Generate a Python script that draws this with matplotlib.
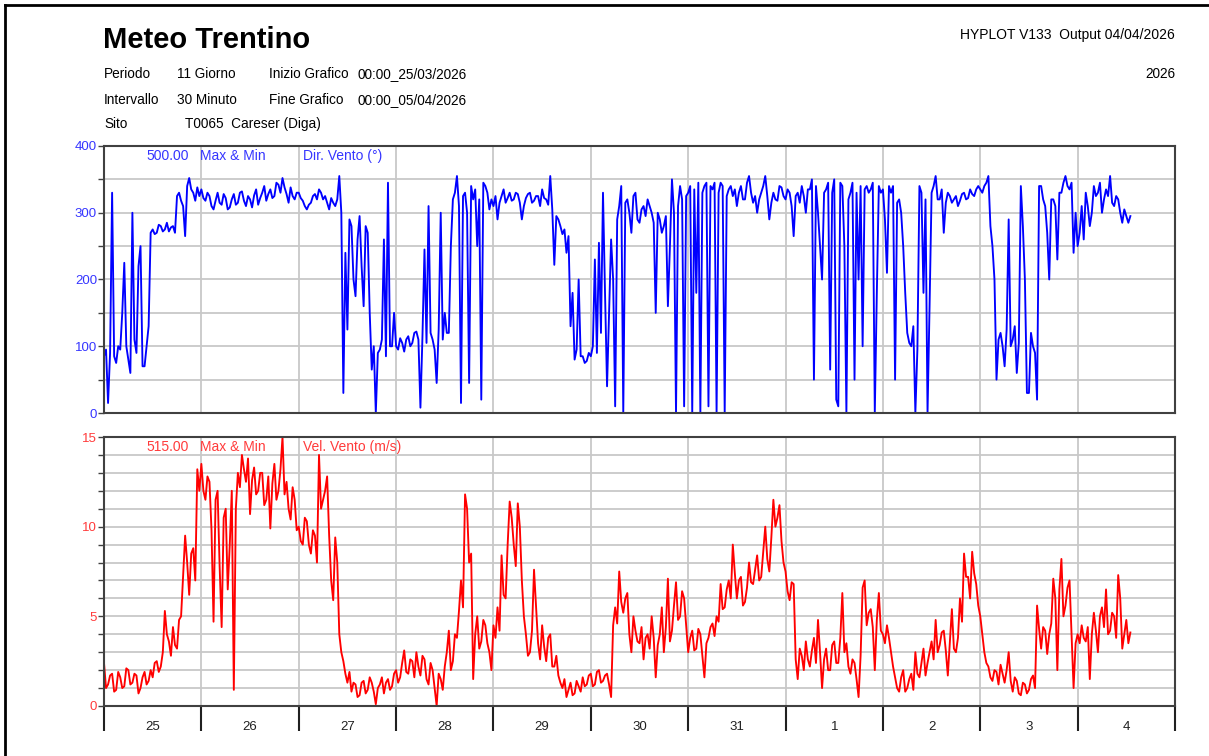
import numpy as np
import matplotlib.pyplot as plt
from matplotlib.lines import Line2D

plt.rcParams['font.family'] = ['Liberation Sans', 'DejaVu Sans']

# etichette dei giorni (dal 25/03 al 04/04)
giorni = ['25', '26', '27', '28', '29', '30', '31', '1', '2', '3', '4']

# direzione vento (gradi), un valore ogni 30 minuti dalle 00:00 del 25/03
dir_vento = [
    85, 95, 15, 90, 330, 85, 75, 100, 95, 150, 225, 100, 80, 60, 300, 110, 90, 220, 250, 70, 70, 100, 130, 270,
    275, 268, 270, 282, 280, 272, 275, 285, 272, 278, 280, 270, 325, 330, 318, 310, 265, 340, 352, 335, 330, 318, 338, 325,  # 25
    335, 322, 318, 330, 325, 310, 305, 318, 330, 315, 312, 328, 322, 305, 308, 320, 328, 312, 315, 330, 332, 318, 310, 325,
    320, 308, 326, 335, 312, 322, 330, 340, 318, 328, 335, 322, 325, 345, 342, 330, 352, 338, 328, 315, 338, 325, 320, 330,  # 26
    330, 322, 318, 310, 305, 312, 315, 325, 328, 320, 335, 330, 320, 325, 315, 305, 322, 315, 310, 320, 355, 300, 30, 240,
    125, 290, 280, 200, 175, 260, 295, 220, 160, 280, 270, 150, 65, 100, 0, 90, 95, 110, 260, 85, 345, 100, 100, 150,  # 27
    100, 95, 112, 105, 92, 110, 115, 100, 105, 120, 122, 110, 8, 115, 245, 105, 310, 120, 110, 95, 45, 125, 300, 110,
    150, 120, 120, 250, 320, 330, 355, 310, 15, 325, 330, 300, 45, 340, 320, 335, 250, 320, 20, 345, 340, 330, 305, 320,  # 28
    310, 325, 290, 315, 325, 335, 315, 322, 330, 318, 320, 330, 328, 315, 290, 310, 322, 328, 330, 315, 318, 325, 325, 310,
    335, 322, 320, 312, 355, 305, 222, 295, 290, 280, 268, 275, 240, 265, 130, 180, 80, 95, 200, 85, 85, 75, 78, 90,  # 29
    85, 100, 230, 90, 255, 120, 330, 180, 40, 150, 260, 200, 10, 290, 310, 340, 0, 315, 320, 300, 270, 325, 330, 290,
    285, 305, 310, 295, 320, 310, 300, 285, 150, 300, 290, 270, 280, 295, 160, 250, 350, 300, 0, 310, 340, 320, 10, 325,  # 30
    330, 340, 0, 335, 180, 345, 0, 330, 340, 345, 10, 340, 335, 345, 0, 330, 345, 340, 0, 325, 335, 340, 325, 335,
    310, 330, 340, 320, 320, 345, 355, 330, 315, 325, 300, 320, 330, 340, 355, 325, 290, 315, 330, 320, 318, 340, 338, 325,  # 31
    320, 335, 330, 310, 265, 325, 330, 315, 340, 325, 300, 335, 335, 350, 50, 340, 300, 250, 200, 330, 335, 345, 65, 330,
    350, 20, 10, 345, 340, 250, 0, 320, 330, 345, 50, 330, 200, 340, 100, 335, 340, 330, 335, 345, 0, 180, 340, 330,  # 1
    335, 290, 210, 340, 330, 340, 50, 315, 320, 300, 250, 180, 120, 105, 100, 130, 0, 95, 340, 330, 180, 320, 0, 160,
    330, 340, 355, 320, 320, 335, 270, 315, 330, 325, 315, 320, 325, 310, 318, 328, 330, 320, 322, 335, 328, 325, 335, 340,  # 2
    335, 330, 340, 345, 355, 280, 250, 200, 50, 110, 120, 100, 70, 125, 290, 100, 110, 130, 60, 105, 340, 280, 200, 30,
    30, 120, 100, 90, 20, 340, 340, 320, 310, 270, 200, 320, 320, 310, 230, 330, 330, 345, 355, 340, 335, 345, 240, 300,  # 3
    250, 270, 310, 260, 330, 310, 280, 300, 340, 325, 330, 345, 300, 320, 335, 325, 355, 315, 310, 325, 320, 300, 285, 305,
    295, 285, 295,  # 4
]

# velocita vento (m/s), stessi istanti
vel_vento = [
    2.4, 1.0, 1.2, 1.7, 1.8, 0.8, 0.9, 1.9, 1.6, 1.0, 1.1, 2.1, 2.0, 1.2, 1.3, 1.8, 1.7, 0.7, 1.0, 1.6, 1.9, 1.2, 1.4, 2.0,
    1.6, 2.4, 2.5, 1.9, 2.2, 3.0, 5.3, 4.0, 3.6, 2.8, 4.4, 3.4, 3.2, 4.8, 5.0, 7.2, 9.5, 8.0, 6.2, 8.5, 8.8, 7.0, 13.2, 12.0,  # 25
    13.5, 12.0, 11.5, 12.8, 12.5, 9.8, 4.7, 11.5, 12.0, 7.8, 4.4, 10.5, 11.0, 6.5, 9.0, 12.0, 0.9, 11.0, 13.0, 12.2, 14.0, 13.2, 12.5, 13.8,
    10.7, 12.6, 13.3, 11.8, 12.0, 13.0, 13.0, 11.2, 11.5, 12.8, 9.9, 12.4, 13.5, 11.5, 12.0, 13.2, 15.0, 11.8, 12.5, 11.0, 10.4, 12.2, 11.5, 9.8,  # 26
    10.0, 9.2, 9.0, 10.5, 10.3, 9.0, 8.5, 9.8, 9.5, 8.0, 14.0, 11.0, 11.5, 12.0, 12.8, 9.5, 7.0, 5.9, 9.4, 8.0, 4.0, 3.0, 2.5, 1.8,
    1.3, 1.9, 0.8, 1.3, 1.2, 0.5, 0.6, 1.3, 1.4, 0.7, 0.9, 1.6, 1.3, 0.8, 0.1, 1.0, 1.2, 1.6, 0.7, 1.3, 1.5, 0.9, 1.1, 1.8,  # 27
    2.0, 1.3, 1.6, 2.4, 3.1, 1.9, 1.8, 2.6, 2.5, 1.6, 3.0, 2.2, 1.7, 2.8, 2.6, 1.5, 1.2, 2.4, 2.0, 1.0, 0.0, 1.8, 1.5, 0.9,
    2.2, 3.0, 4.2, 2.0, 2.5, 4.0, 3.8, 5.3, 7.0, 5.5, 11.8, 11.0, 8.0, 8.5, 1.5, 4.0, 5.0, 3.2, 3.6, 4.8, 4.5, 3.5, 3.0, 2.0,  # 28
    4.5, 3.8, 5.5, 4.2, 8.4, 6.2, 6.0, 9.0, 11.4, 10.5, 9.0, 7.8, 11.3, 10.0, 7.0, 5.0, 4.0, 2.8, 3.0, 4.2, 7.6, 5.5, 3.5, 2.6,
    4.5, 3.3, 2.5, 3.8, 4.0, 2.2, 2.2, 2.8, 1.7, 1.3, 1.0, 1.5, 0.5, 0.9, 1.3, 0.6, 0.7, 1.4, 1.1, 0.8, 1.6, 1.1, 1.2, 1.7,  # 29
    1.8, 1.1, 1.2, 1.9, 2.0, 1.3, 1.4, 1.7, 1.8, 1.2, 0.5, 4.5, 5.5, 4.6, 7.5, 5.8, 5.2, 6.0, 6.3, 4.0, 3.0, 5.0, 4.2, 3.6,
    3.5, 4.4, 2.6, 3.8, 4.0, 3.2, 5.0, 3.8, 1.6, 3.4, 4.0, 5.5, 3.0, 4.4, 7.1, 3.6, 4.2, 5.6, 6.9, 4.8, 5.0, 6.4, 6.0, 4.5,  # 30
    3.0, 3.8, 4.2, 3.1, 3.2, 4.3, 4.0, 2.8, 1.6, 3.5, 3.8, 4.4, 4.6, 3.9, 5.0, 4.7, 6.8, 5.4, 5.5, 6.5, 7.0, 6.0, 9.0, 7.4,
    6.0, 7.0, 7.2, 5.6, 5.8, 6.6, 8.0, 6.9, 6.8, 7.6, 8.4, 7.0, 7.2, 8.6, 10.0, 8.2, 7.5, 9.4, 11.5, 10.0, 10.5, 11.2, 9.2, 8.0,  # 31
    7.5, 6.4, 5.9, 6.9, 6.8, 2.6, 1.5, 3.2, 2.8, 2.0, 3.6, 2.6, 2.2, 3.1, 3.8, 2.4, 4.8, 3.0, 1.0, 2.6, 3.2, 2.0, 2.0, 3.4,
    3.6, 2.4, 2.4, 3.8, 6.3, 3.0, 3.5, 2.2, 1.8, 2.6, 2.4, 1.5, 0.5, 2.8, 6.6, 7.0, 4.5, 5.2, 5.4, 4.4, 2.0, 4.8, 6.3, 4.2,  # 1
    4.0, 3.5, 4.5, 3.8, 3.0, 2.2, 1.6, 1.0, 0.8, 1.6, 2.0, 0.8, 1.0, 1.5, 1.8, 0.9, 3.0, 1.8, 1.6, 2.4, 3.2, 1.7, 2.4, 3.0,
    3.6, 2.6, 4.8, 3.0, 3.4, 4.1, 4.2, 3.1, 1.7, 3.6, 5.4, 3.2, 3.0, 3.8, 6.0, 4.7, 8.5, 7.2, 7.2, 6.0, 8.6, 7.4, 6.8, 5.6,  # 2
    5.0, 4.0, 3.0, 2.4, 2.2, 1.6, 1.4, 2.0, 1.9, 1.2, 2.3, 1.8, 1.3, 2.0, 3.0, 1.4, 0.8, 1.6, 1.4, 0.7, 0.6, 1.3, 1.2, 0.7,
    0.9, 1.5, 1.7, 1.0, 5.6, 4.3, 3.2, 4.4, 4.2, 2.9, 4.0, 4.6, 7.1, 6.0, 2.0, 6.5, 8.2, 5.0, 5.6, 6.6, 7.0, 4.0, 1.0, 3.5,  # 3
    4.0, 3.5, 4.5, 3.8, 3.6, 4.4, 1.5, 4.0, 5.2, 4.2, 3.0, 5.0, 5.5, 4.4, 6.5, 4.0, 4.2, 5.2, 5.0, 3.8, 7.3, 6.0, 3.2, 4.0,
    4.8, 3.5, 4.1,  # 4
]

ore = np.arange(len(dir_vento)) * 0.5
fine = 24 * len(giorni)

W, H = 1209, 756
fig = plt.figure(figsize=(W / 100, H / 100), dpi=100)

def testo(x, y, s, **kw):
    # posizione in pixel dall'alto a sinistra
    fig.text(x / W, 1 - y / H, s, va='center', **kw)

# cornice della pagina
fig.add_artist(Line2D([5 / W, 1], [1 - 5 / H, 1 - 5 / H], color='k', lw=2, transform=fig.transFigure))
fig.add_artist(Line2D([5 / W, 5 / W], [0, 1 - 5 / H], color='k', lw=2, transform=fig.transFigure))

# intestazione
testo(103, 40, 'Meteo Trentino', fontsize=21, fontweight='bold')
testo(1175, 35, 'HYPLOT V133  Output 04/04/2026', fontsize=10, ha='right')
testo(1175, 74, '2026', fontsize=9.8, ha='right')
righe = [(74, 'Periodo', '11 Giorno', 'Inizio Grafico', '00:00_25/03/2026'),
         (100, 'Intervallo', '30 Minuto', 'Fine Grafico', '00:00_05/04/2026')]
for y, a, b, c, d in righe:
    testo(104, y, a, fontsize=9.8)
    testo(177, y, b, fontsize=9.8)
    testo(269, y, c, fontsize=9.8)
    testo(358, y, d, fontsize=9.8)
testo(104, 124, 'Sito', fontsize=9.8)
testo(185, 124, 'T0065  Careser (Diga)', fontsize=9.8)

ax1 = fig.add_axes([104 / W, 1 - 413 / H, 1071 / W, 267 / H])
ax2 = fig.add_axes([104 / W, 1 - 706 / H, 1071 / W, 269 / H])

griglia = '#c8c8c8'
bordo = '#404040'
blu_testo = '#3535ff'
rosso_testo = '#ff3b3b'

# Direzione vento
ax1.plot(ore, dir_vento, color='#0000ff', lw=1.35)
ax1.set_xlim(0, fine)
ax1.set_ylim(0, 400)
ax1.set_yticks([0, 100, 200, 300, 400])
ax1.set_yticks(np.arange(0, 401, 50), minor=True)
ax1.set_xticks(np.arange(0, fine + 1, 24))
ax1.tick_params(axis='x', length=0, labelbottom=False)
ax1.tick_params(axis='y', which='both', direction='out', length=4, width=1, color=bordo,
                labelcolor=blu_testo, labelsize=9.5, pad=1)
ax1.grid(True, axis='x', color=griglia, lw=1.3)
ax1.grid(True, axis='y', which='both', color=griglia, lw=1.3)
ax1.set_axisbelow(True)
for x, s in [(42, '500.00'), (96, 'Max & Min'), (199, 'Dir. Vento (°)')]:
    ax1.text(x / 1071, 1 - 10 / 267, s, transform=ax1.transAxes, color=blu_testo, fontsize=10, va='center')

# Velocita vento
ax2.plot(ore, vel_vento, color='#ff0000', lw=1.35)
ax2.set_xlim(0, fine)
ax2.set_ylim(0, 15)
ax2.set_yticks([0, 5, 10, 15])
ax2.set_yticks(np.arange(0, 16, 1), minor=True)
ax2.set_xticks(np.arange(0, fine + 1, 24))
ax2.set_xticks(np.arange(12, fine, 24), minor=True)
ax2.set_xticklabels([])
ax2.set_xticklabels(giorni, minor=True)
ax2.tick_params(axis='x', which='major', direction='out', length=18, width=1.5, color='#202020')
ax2.tick_params(axis='x', which='minor', length=0, pad=11, labelsize=9.5, labelcolor='#202020')
ax2.tick_params(axis='y', which='both', direction='out', length=4, width=1, color=bordo,
                labelcolor=rosso_testo, labelsize=9.5, pad=1)
ax2.grid(True, axis='x', which='major', color=griglia, lw=1.3)
ax2.grid(True, axis='y', which='both', color=griglia, lw=1.3)
ax2.set_axisbelow(True)
for x, s in [(42, '515.00'), (96, 'Max & Min'), (199, 'Vel. Vento (m/s)')]:
    ax2.text(x / 1071, 1 - 10 / 269, s, transform=ax2.transAxes, color=rosso_testo, fontsize=10, va='center')

for ax in (ax1, ax2):
    for s in ax.spines.values():
        s.set_color(bordo)
        s.set_linewidth(1.5)

fig.savefig('out.png', dpi=100)
